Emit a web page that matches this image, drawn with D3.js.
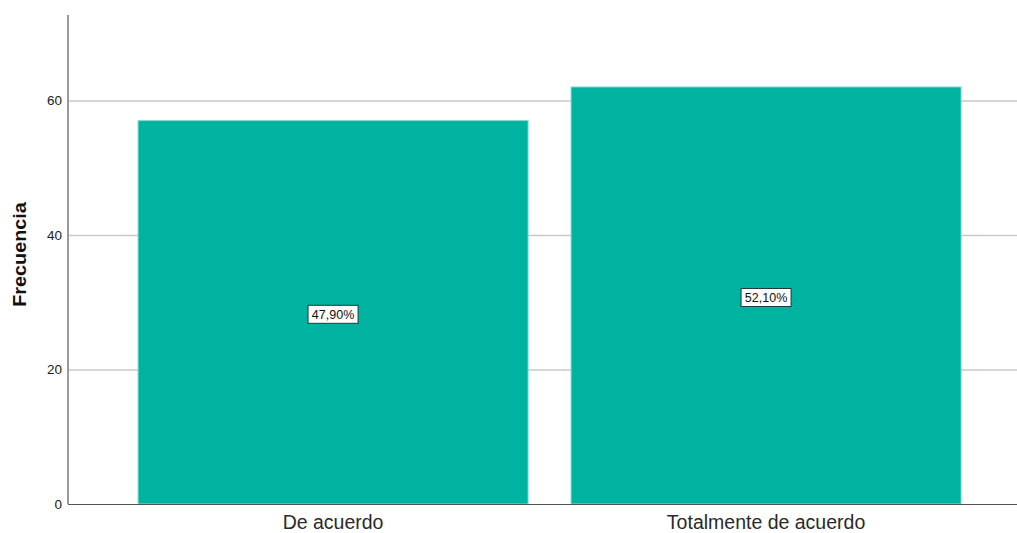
<!DOCTYPE html>
<html>
<head>
<meta charset="utf-8">
<script src="https://cdn.jsdelivr.net/npm/d3@7"></script>
<style>
  html, body { margin: 0; padding: 0; background: #fff; }
  svg { display: block; font-family: "Liberation Sans", Arial, sans-serif; }
</style>
</head>
<body>
<svg id="chart" width="1017" height="533"></svg>
<script>
// Response categories and their counts
const categories = ["De acuerdo", "Totalmente de acuerdo"];
const counts = [57, 62];
const percentLabels = ["47,90%", "52,10%"];
const yTicks = [0, 20, 40, 60];

const width = 1017, height = 533;
const margin = { top: 15, right: 0, bottom: 29, left: 68 };

const svg = d3.select("#chart");

const x = d3.scaleBand()
  .domain(categories)
  .range([margin.left, width - margin.right])
  .paddingInner(0.0993)
  .paddingOuter(0.1455)
  .align(0.556);

const y = d3.scaleLinear()
  .domain([0, 72.7])
  .range([height - margin.bottom, margin.top]);

// Horizontal gridlines
svg.append("g")
  .selectAll("line")
  .data(yTicks.filter(d => d > 0))
  .join("line")
  .attr("x1", margin.left)
  .attr("x2", width - margin.right)
  .attr("y1", d => y(d) + 0.5)
  .attr("y2", d => y(d) + 0.5)
  .attr("stroke", "#c9c9c9")
  .attr("stroke-width", 1.5);

// Bars
svg.append("g")
  .selectAll("rect")
  .data(categories)
  .join("rect")
  .attr("x", d => x(d))
  .attr("y", (d, i) => y(counts[i]))
  .attr("width", x.bandwidth())
  .attr("height", (d, i) => y(0) - y(counts[i]))
  .attr("fill", "#00b2a0")
  .attr("stroke", "#7fdccf")
  .attr("stroke-width", 1);

// Y axis
const yAxis = svg.append("g")
  .attr("transform", `translate(${margin.left},0)`)
  .call(d3.axisLeft(y).tickValues(yTicks).tickSize(0).tickPadding(6));
yAxis.select(".domain").remove();
yAxis.selectAll("text")
  .attr("font-size", 13.5)
  .attr("fill", "#222")
  .attr("font-family", "Liberation Sans, Arial, sans-serif");
svg.append("line")
  .attr("x1", margin.left).attr("x2", margin.left)
  .attr("y1", margin.top).attr("y2", y(0))
  .attr("stroke", "#9a9a9a").attr("stroke-width", 2);

// X axis
const xAxis = svg.append("g")
  .attr("transform", `translate(0,${y(0)})`)
  .call(d3.axisBottom(x).tickSize(0).tickPadding(11));
xAxis.select(".domain").remove();
xAxis.selectAll("text")
  .attr("font-size", 19.5)
  .attr("fill", "#2a2a2a")
  .attr("font-family", "Liberation Sans, Arial, sans-serif");
svg.append("line")
  .attr("x1", margin.left).attr("x2", width)
  .attr("y1", y(0) + 0.5).attr("y2", y(0) + 0.5)
  .attr("stroke", "#555").attr("stroke-width", 1.2);

// Y axis title
svg.append("text")
  .attr("transform", `translate(26,${(margin.top + y(0)) / 2 - 5}) rotate(-90) scale(1.1,1)`)
  .attr("text-anchor", "middle")
  .attr("font-size", 18)
  .attr("font-weight", "bold")
  .attr("fill", "#111")
  .text("Frecuencia");

// Percentage labels at bar centres
const labels = svg.append("g")
  .selectAll("g")
  .data(categories)
  .join("g")
  .attr("transform", (d, i) =>
    `translate(${x(d) + x.bandwidth() / 2},${(y(counts[i]) + y(0)) / 2 + 2})`);
labels.append("rect")
  .attr("x", -25).attr("y", -9)
  .attr("width", 50).attr("height", 18)
  .attr("fill", "#fff")
  .attr("stroke", "#1d3b38")
  .attr("stroke-width", 1);
labels.append("text")
  .attr("text-anchor", "middle")
  .attr("dy", "0.35em")
  .attr("font-size", 12.5)
  .attr("fill", "#111")
  .text((d, i) => percentLabels[i]);
</script>
</body>
</html>
